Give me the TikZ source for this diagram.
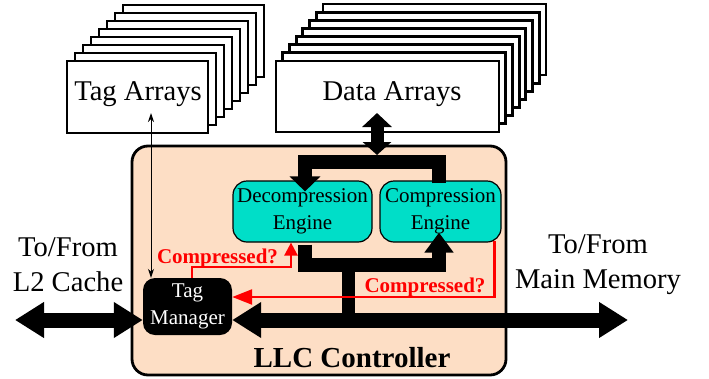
\documentclass[tikz,border=0pt]{standalone}
\usepackage{fontspec}
\setmainfont{Liberation Serif}
\usetikzlibrary{arrows.meta}
\definecolor{llcfill}{RGB}{253,222,197}
\definecolor{engfill}{RGB}{0,222,200}

\begin{document}
\begin{tikzpicture}[x=1pt, y=-1pt,
    stackbox/.style={draw, line width=2.8pt, fill=white},
    engine/.style={draw, line width=1.2pt, fill=engfill, rounded corners=14pt, align=center, font=\fontsize{21}{27}\selectfont, inner sep=0pt},
    fat/.style={line width=14pt},
    bus/.style={line width=15pt, {Triangle[length=29pt,width=34pt]}-{Triangle[length=29pt,width=34pt]}},
    query/.style={draw=red, line width=2.4pt},
    querytxt/.style={text=red, font=\fontsize{21}{25}\selectfont\bfseries, anchor=base, inner sep=0pt},
    bigtxt/.style={font=\fontsize{28.6}{35}\selectfont, align=center}]

  \useasboundingbox (0,0) rectangle (709,378);

  % tag and data array stacks, back to front
  \foreach \i in {7,...,1} {
    \draw[stackbox] (67+8*\i,61-8*\i) rectangle (208+8*\i,133-8*\i);
    \draw[stackbox] (276+6.7*\i,61-8.15*\i) rectangle (499+6.7*\i,132-8.15*\i);
  }
  \node[stackbox, minimum width=141pt, minimum height=72pt] (tagarr) at (137.5,97) {};
  \node[stackbox, minimum width=223pt, minimum height=71pt] (dataarr) at (387.5,96.5) {};
  \node[bigtxt, anchor=base] (tagtxt) at (138,100) {Tag Arrays};
  \node[bigtxt, anchor=base] (datatxt) at (392,100) {Data Arrays};

  % controller
  \node[draw, line width=2.8pt, fill=llcfill, rounded corners=16pt, minimum width=374pt, minimum height=229pt] (llc) at (319,260.5) {};
  \node[font=\fontsize{29}{32}\selectfont\bfseries, anchor=base] (llctxt) at (352,367) {LLC Controller};

  \node[engine, minimum width=139pt, minimum height=61pt] (decomp) at (302.5,211.5) {Decompression\\Engine};
  \node[engine, minimum width=121pt, minimum height=61pt] (comp) at (440.5,211.5) {Compression\\Engine};
  \node[fill=black, rounded corners=12pt, minimum width=89pt, minimum height=57pt, text=white, align=center, font=\fontsize{21}{27}\selectfont, inner sep=0pt] (tagmgr) at (187.5,306.5) {Tag\\Manager};

  % side labels
  \node[bigtxt] (l2txt) at (68,265) {To/From\\L2 Cache};
  \node[bigtxt] (memtxt) at (598,265) {To/From\\Main Memory};

  % thick data paths
  \coordinate (topbar) at (377,162);
  \coordinate (lowbar) at (348,265);
  \coordinate (busR) at (628,320);
  \coordinate (busL) at (15,320);
  \coordinate (datatip) at (377,113);
  \draw[fat, line width=13pt, {Triangle[length=14pt,width=29pt]}-{Triangle[length=13pt,width=28pt]}] (datatip) -- ([yshift=7pt]topbar);
  \draw[fat, -{Triangle[length=15pt,width=30pt]}] ([xshift=-1.5pt,yshift=-3pt]comp.north) |- (topbar) -| ([xshift=2.5pt,yshift=-11pt]decomp.north);
  \draw[fat, -{Triangle[length=20pt,width=28pt]}] ([xshift=2.5pt,yshift=-2pt]decomp.south) |- (lowbar) -| ([xshift=-1.5pt,yshift=10pt]comp.south);
  \draw[fat, line width=13pt] (lowbar) -- (lowbar |- busR);
  \draw[bus] (busR) -- (tagmgr.east |- busR);
  \draw[bus] (busL) -- (tagmgr.west |- busL);

  % tag lookup
  \coordinate (tagtip) at (151,113);
  \draw[line width=1pt, {Stealth[length=9pt,width=6pt]}-{Stealth[length=9pt,width=6pt]}] (tagtip) -- (tagtip |- tagmgr.north);

  % compressed? signals
  \coordinate (qA) at (240,267);
  \coordinate (qB) at (400,297);
  \draw[query, -{Triangle[length=13pt,width=13pt]}] ([xshift=4.5pt]tagmgr.north) |- (qA) -| ([xshift=-11.5pt]decomp.south);
  \draw[query, -{Triangle[length=20pt,width=15pt]}] ([xshift=-7pt,yshift=2pt]comp.south east) |- (tagmgr.east |- qB);
  \node[querytxt] (qAtxt) at (217.5,263) {Compressed?};
  \node[querytxt] (qBtxt) at (425,292) {Compressed?};
\end{tikzpicture}
\end{document}
